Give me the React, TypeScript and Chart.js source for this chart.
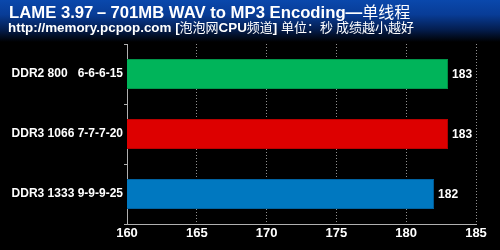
import React, { useEffect, useRef } from "react";
import { Chart, registerables } from "chart.js";

Chart.register(...registerables);

const titleParts: [string, boolean][] = [
  ["LAME 3.97－701MB WAV to MP3 Encoding—", true],
  ["单线程", false],
];
const subtitleParts: [string, boolean][] = [
  ["http://memory.pcpop.com [", true],
  ["泡泡网", false],
  ["CPU", true],
  ["频道", false],
  ["] ", true],
  ["单位：秒 成绩越小越好", false],
];
const categories = ["DDR2 800   6-6-6-15", "DDR3 1066 7-7-7-20", "DDR3 1333 9-9-9-25"];
const values = [183, 183, 182];
const barColors = ["#00b45a", "#dd0000", "#0078c0"];
const barBorders = ["#00964a", "#b80000", "#0062a0"];
const xMin = 160;
const xMax = 185;
const xStep = 5;

const FONT = "Arial, 'Liberation Sans', sans-serif";
const CJK = "'Noto Sans CJK SC', sans-serif";

function drawParts(ctx: any, parts: [string, boolean][], x: number, y: number, bold: number, cjk: number) {
  let cx = x;
  for (const [t, b] of parts) {
    ctx.font = b ? `bold ${bold}px ${FONT}` : `normal ${cjk}px ${CJK}`;
    ctx.fillText(t, cx, y);
    cx += ctx.measureText(t).width;
  }
}

export default function App() {
  const ref = useRef<HTMLCanvasElement | null>(null);
  useEffect(() => {
    document.body.style.margin = "0";
    document.body.style.background = "#000";
    const bgPlugin = {
      id: "bg",
      beforeDraw(chart: any) {
        const ctx = chart.ctx;
        const w = chart.width, h = chart.height;
        ctx.save();
        ctx.fillStyle = "#000";
        ctx.fillRect(0, 0, w, h);
        const g = ctx.createLinearGradient(0, 0, 0, 42);
        g.addColorStop(0, "#0a48ac");
        g.addColorStop(0.35, "#083c96");
        g.addColorStop(0.7, "#041e50");
        g.addColorStop(1, "#000000");
        ctx.fillStyle = g;
        ctx.fillRect(0, 0, w, 42);
        ctx.fillStyle = "#ffffff";
        ctx.textBaseline = "alphabetic";
        ctx.textAlign = "left";
        drawParts(ctx, titleParts, 9, 18, 16.7, 16);
        drawParts(ctx, subtitleParts, 8, 32, 13.4, 13);
        ctx.restore();
      },
      afterDatasetsDraw(chart: any) {
        const ctx = chart.ctx;
        const meta = chart.getDatasetMeta(0);
        ctx.save();
        ctx.fillStyle = "#ffffff";
        ctx.font = "bold 12px " + FONT;
        ctx.textAlign = "left";
        ctx.textBaseline = "middle";
        meta.data.forEach((bar: any, i: number) => {
          ctx.fillText(String(values[i]), bar.x + 4, bar.y + 1);
        });
        ctx.restore();
      },
    };
    const chart = new Chart(ref.current!, {
      type: "bar",
      data: {
        labels: categories,
        datasets: [
          {
            data: values,
            backgroundColor: barColors,
            borderColor: barBorders,
            borderWidth: 1,
            borderSkipped: false,
            barPercentage: 0.5,
            categoryPercentage: 1,
          },
        ],
      },
      options: {
        indexAxis: "y",
        animation: false,
        responsive: false,
        maintainAspectRatio: false,
        layout: { padding: { left: 0, right: 24, top: 44, bottom: 0 } },
        plugins: { legend: { display: false }, tooltip: { enabled: false } },
        scales: {
          x: {
            min: xMin,
            max: xMax,
            ticks: {
              stepSize: xStep,
              color: "#ffffff",
              font: { family: FONT, size: 13, weight: "bold" },
              padding: 2,
            },
            grid: {
              color: "#909090",
              drawTicks: false,
              lineWidth: 1,
            },
            border: { display: true, color: "#b0b0b0", dash: [1, 2], dashOffset: 0 },
            afterFit(scale: any) {
              scale.height = 26;
            },
          } as any,
          y: {
            ticks: {
              color: "#ffffff",
              font: { family: FONT, size: 12, weight: "bold" },
              padding: 1,
            },
            grid: {
              color: "#b0b0b0",
              drawOnChartArea: false,
              drawTicks: true,
              tickLength: 3,
              offset: true,
            },
            border: { display: true, color: "#b0b0b0" },
            afterFit(scale: any) {
              scale.width = 127;
            },
          } as any,
        },
      },
      plugins: [bgPlugin],
    } as any);
    return () => chart.destroy();
  }, []);
  return <canvas ref={ref} width={500} height={250} style={{ display: "block" }} />;
}
